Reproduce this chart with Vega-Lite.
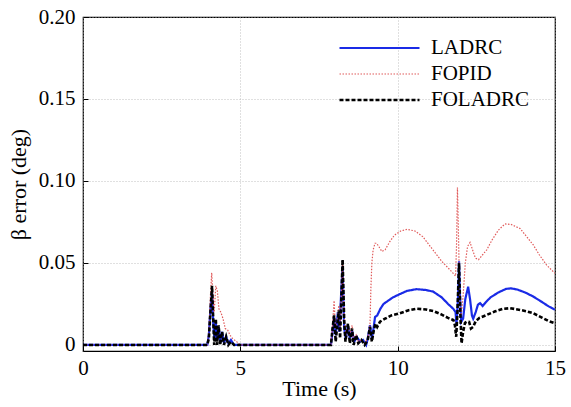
{
  "$schema": "https://vega.github.io/schema/vega-lite/v6.json",
  "width": 472,
  "height": 334,
  "autosize": {"type": "none"},
  "padding": {"left": 83, "top": 17, "right": 16, "bottom": 56},
  "background": "white",
  "config": {
    "font": "Liberation Serif",
    "view": {"stroke": "black", "strokeWidth": 1.2},
    "axis": {
      "labelFont": "Liberation Serif",
      "titleFont": "Liberation Serif",
      "labelFontSize": 21,
      "titleFontSize": 22,
      "labelColor": "black",
      "titleColor": "black",
      "titleFontWeight": "normal",
      "domain": false,
      "tickColor": "black",
      "tickSize": -5,
      "gridColor": "#b0b0b0",
      "gridDash": [1, 2],
      "gridWidth": 0.8
    },
    "legend": {
      "labelFont": "Liberation Serif",
      "labelFontSize": 21,
      "labelColor": "black"
    }
  },
  "data": {
    "values": [
      {"s":"LADRC","t":0,"v":0},{"s":"LADRC","t":3.95,"v":0},{"s":"LADRC","t":4.0,"v":0.006},{"s":"LADRC","t":4.05,"v":0.022},{"s":"LADRC","t":4.1,"v":0.033},{"s":"LADRC","t":4.14,"v":0.013},{"s":"LADRC","t":4.18,"v":0.003},{"s":"LADRC","t":4.22,"v":0.014},{"s":"LADRC","t":4.26,"v":0.004},{"s":"LADRC","t":4.31,"v":0.011},{"s":"LADRC","t":4.36,"v":0.002},{"s":"LADRC","t":4.42,"v":0.008},{"s":"LADRC","t":4.48,"v":0.001},{"s":"LADRC","t":4.55,"v":0.005},{"s":"LADRC","t":4.62,"v":0.001},{"s":"LADRC","t":4.7,"v":0.003},{"s":"LADRC","t":4.8,"v":0},
      {"s":"LADRC","t":7.88,"v":0},{"s":"LADRC","t":7.93,"v":0.008},{"s":"LADRC","t":7.98,"v":0.017},{"s":"LADRC","t":8.03,"v":0.006},{"s":"LADRC","t":8.1,"v":0.02},{"s":"LADRC","t":8.15,"v":0.008},{"s":"LADRC","t":8.2,"v":0.03},{"s":"LADRC","t":8.25,"v":0.048},{"s":"LADRC","t":8.3,"v":0.01},{"s":"LADRC","t":8.35,"v":0.004},{"s":"LADRC","t":8.42,"v":0.012},{"s":"LADRC","t":8.48,"v":0.004},{"s":"LADRC","t":8.55,"v":0.009},{"s":"LADRC","t":8.62,"v":0.002},{"s":"LADRC","t":8.7,"v":0.005},{"s":"LADRC","t":8.8,"v":0.002},{"s":"LADRC","t":8.9,"v":0.003},{"s":"LADRC","t":9.0,"v":0},{"s":"LADRC","t":9.05,"v":0.004},{"s":"LADRC","t":9.12,"v":0.012},{"s":"LADRC","t":9.18,"v":0.004},{"s":"LADRC","t":9.22,"v":0.008},{"s":"LADRC","t":9.28,"v":0.017},{"s":"LADRC","t":9.35,"v":0.018},{"s":"LADRC","t":9.45,"v":0.022},{"s":"LADRC","t":9.55,"v":0.025},{"s":"LADRC","t":9.7,"v":0.027},{"s":"LADRC","t":9.85,"v":0.029},{"s":"LADRC","t":10.07,"v":0.031},{"s":"LADRC","t":10.3,"v":0.033},{"s":"LADRC","t":10.6,"v":0.034},{"s":"LADRC","t":10.9,"v":0.0335},{"s":"LADRC","t":11.13,"v":0.0325},{"s":"LADRC","t":11.4,"v":0.029},{"s":"LADRC","t":11.6,"v":0.025},{"s":"LADRC","t":11.77,"v":0.022},{"s":"LADRC","t":11.84,"v":0.02},{"s":"LADRC","t":11.87,"v":0.012},{"s":"LADRC","t":11.92,"v":0.03},{"s":"LADRC","t":11.95,"v":0.051},{"s":"LADRC","t":11.98,"v":0.03},{"s":"LADRC","t":12.02,"v":0.014},{"s":"LADRC","t":12.08,"v":0.016},{"s":"LADRC","t":12.15,"v":0.028},{"s":"LADRC","t":12.24,"v":0.0355},{"s":"LADRC","t":12.3,"v":0.028},{"s":"LADRC","t":12.36,"v":0.018},{"s":"LADRC","t":12.4,"v":0.016},{"s":"LADRC","t":12.48,"v":0.02},{"s":"LADRC","t":12.55,"v":0.0245},{"s":"LADRC","t":12.62,"v":0.0255},{"s":"LADRC","t":12.7,"v":0.0237},{"s":"LADRC","t":12.8,"v":0.026},{"s":"LADRC","t":12.95,"v":0.029},{"s":"LADRC","t":13.2,"v":0.032},{"s":"LADRC","t":13.45,"v":0.0342},{"s":"LADRC","t":13.6,"v":0.0345},{"s":"LADRC","t":13.8,"v":0.0338},{"s":"LADRC","t":14.05,"v":0.032},{"s":"LADRC","t":14.31,"v":0.0295},{"s":"LADRC","t":14.6,"v":0.026},{"s":"LADRC","t":14.8,"v":0.0235},{"s":"LADRC","t":15.0,"v":0.0215},

      {"s":"FOPID","t":0,"v":0},{"s":"FOPID","t":3.95,"v":0},{"s":"FOPID","t":4.0,"v":0.008},{"s":"FOPID","t":4.05,"v":0.03},{"s":"FOPID","t":4.09,"v":0.044},{"s":"FOPID","t":4.13,"v":0.03},{"s":"FOPID","t":4.17,"v":0.02},{"s":"FOPID","t":4.22,"v":0.036},{"s":"FOPID","t":4.27,"v":0.033},{"s":"FOPID","t":4.32,"v":0.022},{"s":"FOPID","t":4.38,"v":0.02},{"s":"FOPID","t":4.45,"v":0.016},{"s":"FOPID","t":4.52,"v":0.01},{"s":"FOPID","t":4.6,"v":0.009},{"s":"FOPID","t":4.67,"v":0.006},{"s":"FOPID","t":4.75,"v":0.004},{"s":"FOPID","t":4.88,"v":0.002},{"s":"FOPID","t":5.0,"v":0},
      {"s":"FOPID","t":7.88,"v":0},{"s":"FOPID","t":7.93,"v":0.012},{"s":"FOPID","t":7.98,"v":0.027},{"s":"FOPID","t":8.02,"v":0.01},{"s":"FOPID","t":8.08,"v":0.015},{"s":"FOPID","t":8.13,"v":0.024},{"s":"FOPID","t":8.17,"v":0.01},{"s":"FOPID","t":8.25,"v":0.05},{"s":"FOPID","t":8.3,"v":0.018},{"s":"FOPID","t":8.35,"v":0.006},{"s":"FOPID","t":8.42,"v":0.012},{"s":"FOPID","t":8.48,"v":0.006},{"s":"FOPID","t":8.55,"v":0.012},{"s":"FOPID","t":8.6,"v":0.003},{"s":"FOPID","t":8.68,"v":0.006},{"s":"FOPID","t":8.75,"v":0.002},{"s":"FOPID","t":8.85,"v":0.003},{"s":"FOPID","t":8.95,"v":0.001},{"s":"FOPID","t":9.05,"v":0.004},{"s":"FOPID","t":9.12,"v":0.012},{"s":"FOPID","t":9.15,"v":0.035},{"s":"FOPID","t":9.18,"v":0.05},{"s":"FOPID","t":9.22,"v":0.058},{"s":"FOPID","t":9.28,"v":0.062},{"s":"FOPID","t":9.33,"v":0.062},{"s":"FOPID","t":9.4,"v":0.06},{"s":"FOPID","t":9.5,"v":0.057},{"s":"FOPID","t":9.6,"v":0.058},{"s":"FOPID","t":9.75,"v":0.063},{"s":"FOPID","t":9.9,"v":0.067},{"s":"FOPID","t":10.1,"v":0.0695},{"s":"FOPID","t":10.3,"v":0.0705},{"s":"FOPID","t":10.55,"v":0.0695},{"s":"FOPID","t":10.8,"v":0.066},{"s":"FOPID","t":11.0,"v":0.061},{"s":"FOPID","t":11.2,"v":0.056},{"s":"FOPID","t":11.4,"v":0.051},{"s":"FOPID","t":11.6,"v":0.047},{"s":"FOPID","t":11.75,"v":0.044},{"s":"FOPID","t":11.84,"v":0.042},{"s":"FOPID","t":11.87,"v":0.06},{"s":"FOPID","t":11.9,"v":0.096},{"s":"FOPID","t":11.93,"v":0.07},{"s":"FOPID","t":11.97,"v":0.03},{"s":"FOPID","t":12.02,"v":0.018},{"s":"FOPID","t":12.08,"v":0.03},{"s":"FOPID","t":12.15,"v":0.05},{"s":"FOPID","t":12.22,"v":0.06},{"s":"FOPID","t":12.3,"v":0.0625},{"s":"FOPID","t":12.38,"v":0.058},{"s":"FOPID","t":12.47,"v":0.053},{"s":"FOPID","t":12.57,"v":0.052},{"s":"FOPID","t":12.7,"v":0.055},{"s":"FOPID","t":12.83,"v":0.058},{"s":"FOPID","t":13.0,"v":0.064},{"s":"FOPID","t":13.2,"v":0.07},{"s":"FOPID","t":13.41,"v":0.0738},{"s":"FOPID","t":13.6,"v":0.0735},{"s":"FOPID","t":13.89,"v":0.071},{"s":"FOPID","t":14.1,"v":0.066},{"s":"FOPID","t":14.31,"v":0.061},{"s":"FOPID","t":14.5,"v":0.055},{"s":"FOPID","t":14.73,"v":0.0488},{"s":"FOPID","t":14.9,"v":0.0455},{"s":"FOPID","t":15.0,"v":0.0437},

      {"s":"FOLADRC","t":0,"v":0},{"s":"FOLADRC","t":3.95,"v":0},{"s":"FOLADRC","t":4.0,"v":0.004},{"s":"FOLADRC","t":4.05,"v":0.02},{"s":"FOLADRC","t":4.1,"v":0.036},{"s":"FOLADRC","t":4.13,"v":0.02},{"s":"FOLADRC","t":4.17,"v":0.0},{"s":"FOLADRC","t":4.22,"v":0.016},{"s":"FOLADRC","t":4.26,"v":0.0},{"s":"FOLADRC","t":4.31,"v":0.012},{"s":"FOLADRC","t":4.36,"v":0.0},{"s":"FOLADRC","t":4.42,"v":0.008},{"s":"FOLADRC","t":4.48,"v":0},{"s":"FOLADRC","t":4.55,"v":0.005},{"s":"FOLADRC","t":4.62,"v":0},{"s":"FOLADRC","t":4.7,"v":0.002},{"s":"FOLADRC","t":4.8,"v":0},
      {"s":"FOLADRC","t":7.88,"v":0},{"s":"FOLADRC","t":7.93,"v":0.01},{"s":"FOLADRC","t":7.98,"v":0.018},{"s":"FOLADRC","t":8.03,"v":0.002},{"s":"FOLADRC","t":8.08,"v":0.012},{"s":"FOLADRC","t":8.13,"v":0.021},{"s":"FOLADRC","t":8.17,"v":0.004},{"s":"FOLADRC","t":8.25,"v":0.052},{"s":"FOLADRC","t":8.3,"v":0.015},{"s":"FOLADRC","t":8.34,"v":0.002},{"s":"FOLADRC","t":8.42,"v":0.013},{"s":"FOLADRC","t":8.48,"v":0.001},{"s":"FOLADRC","t":8.55,"v":0.01},{"s":"FOLADRC","t":8.6,"v":0},{"s":"FOLADRC","t":8.68,"v":0.006},{"s":"FOLADRC","t":8.75,"v":0.001},{"s":"FOLADRC","t":8.85,"v":0.003},{"s":"FOLADRC","t":8.95,"v":0},{"s":"FOLADRC","t":9.05,"v":0.003},{"s":"FOLADRC","t":9.12,"v":0.011},{"s":"FOLADRC","t":9.18,"v":0.002},{"s":"FOLADRC","t":9.25,"v":0.01},{"s":"FOLADRC","t":9.3,"v":0.013},{"s":"FOLADRC","t":9.35,"v":0.011},{"s":"FOLADRC","t":9.44,"v":0.0142},{"s":"FOLADRC","t":9.6,"v":0.016},{"s":"FOLADRC","t":9.8,"v":0.018},{"s":"FOLADRC","t":10.07,"v":0.0193},{"s":"FOLADRC","t":10.35,"v":0.0212},{"s":"FOLADRC","t":10.6,"v":0.0221},{"s":"FOLADRC","t":10.9,"v":0.0216},{"s":"FOLADRC","t":11.13,"v":0.0207},{"s":"FOLADRC","t":11.4,"v":0.0185},{"s":"FOLADRC","t":11.6,"v":0.0165},{"s":"FOLADRC","t":11.77,"v":0.0152},{"s":"FOLADRC","t":11.82,"v":0.012},{"s":"FOLADRC","t":11.86,"v":0.005},{"s":"FOLADRC","t":11.9,"v":0.02},{"s":"FOLADRC","t":11.95,"v":0.05},{"s":"FOLADRC","t":11.99,"v":0.02},{"s":"FOLADRC","t":12.03,"v":0.001},{"s":"FOLADRC","t":12.08,"v":0.008},{"s":"FOLADRC","t":12.14,"v":0.0135},{"s":"FOLADRC","t":12.2,"v":0.0142},{"s":"FOLADRC","t":12.27,"v":0.014},{"s":"FOLADRC","t":12.33,"v":0.01},{"s":"FOLADRC","t":12.4,"v":0.011},{"s":"FOLADRC","t":12.48,"v":0.0145},{"s":"FOLADRC","t":12.6,"v":0.0165},{"s":"FOLADRC","t":12.83,"v":0.0183},{"s":"FOLADRC","t":13.1,"v":0.0205},{"s":"FOLADRC","t":13.35,"v":0.022},{"s":"FOLADRC","t":13.57,"v":0.0224},{"s":"FOLADRC","t":13.85,"v":0.0215},{"s":"FOLADRC","t":14.1,"v":0.0205},{"s":"FOLADRC","t":14.31,"v":0.0193},{"s":"FOLADRC","t":14.6,"v":0.0165},{"s":"FOLADRC","t":14.8,"v":0.0145},{"s":"FOLADRC","t":15.0,"v":0.0132}
    ]
  },
  "mark": {"type": "line", "clip": true},
  "encoding": {
    "x": {
      "field": "t", "type": "quantitative",
      "scale": {"domain": [0, 15], "nice": false},
      "axis": {"title": "Time (s)", "values": [0, 5, 10, 15], "labelPadding": 11, "titlePadding": 0, "labelFlush": false}
    },
    "y": {
      "field": "v", "type": "quantitative",
      "scale": {"domain": [-0.0037, 0.2], "nice": false, "zero": false},
      "axis": {"title": "β error (deg)", "values": [0, 0.05, 0.1, 0.15, 0.2], "labelExpr": "datum.value == 0 ? '0' : format(datum.value, '.2f')", "labelPadding": 13, "titlePadding": 8, "labelFlush": false}
    },
    "color": {
      "field": "s", "type": "nominal", "title": null,
      "scale": {"domain": ["LADRC", "FOPID", "FOLADRC"], "range": ["#1a2be6", "#e05a5a", "#000000"]},
      "legend": {"orient": "none", "legendX": 255, "legendY": 20, "symbolType": "stroke", "symbolSize": 6400, "labelOffset": 10, "clipHeight": 22, "rowPadding": 4, "symbolStrokeWidth": 2.5}
    },
    "strokeDash": {
      "field": "s", "type": "nominal", "title": null,
      "scale": {"domain": ["LADRC", "FOPID", "FOLADRC"], "range": [[1, 0], [1.5, 1.5], [4, 2]]}
    },
    "strokeWidth": {
      "field": "s", "type": "nominal", "title": null, "legend": null,
      "scale": {"type": "ordinal", "domain": ["LADRC", "FOPID", "FOLADRC"], "range": [2.2, 1.2, 2.6]}
    },
    "order": {"field": "t", "type": "quantitative"}
  }
}
